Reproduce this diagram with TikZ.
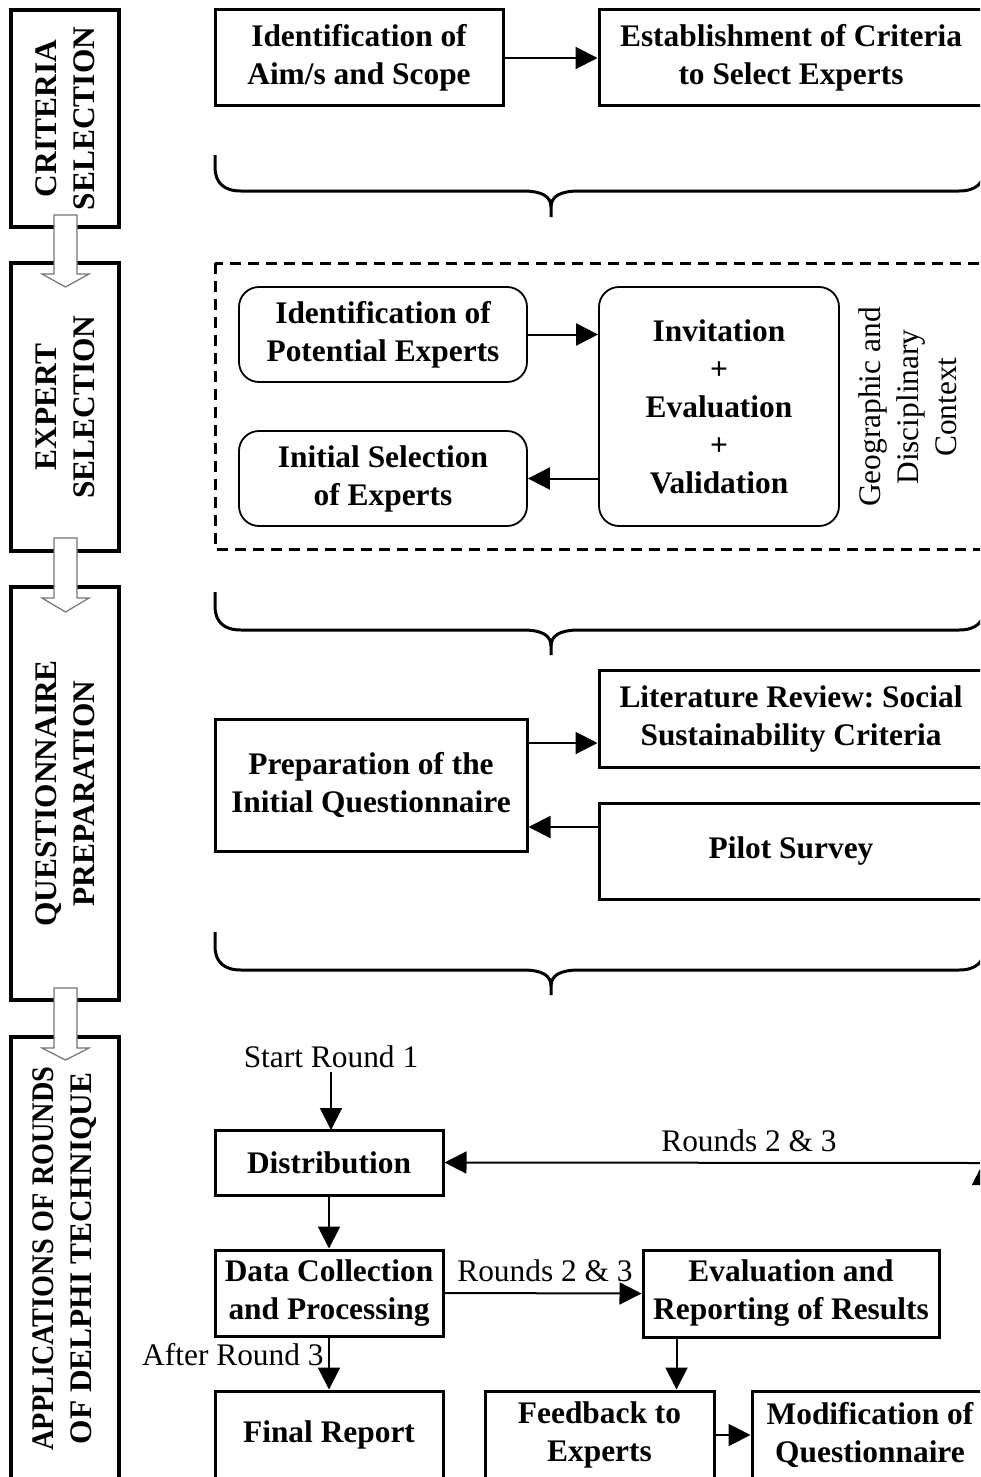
\documentclass[tikz,border=0pt]{standalone}
\usepackage{fontspec}
\setmainfont{Liberation Serif}
\usepackage{graphicx}
\usetikzlibrary{arrows.meta}
\frenchspacing
\newcommand\mybrace[3]{%
  \draw[brace] (215,#1) -- (215,#2-24) .. controls (215,#2-8) and (224,#2) .. (241,#2) -- (523,#2) .. controls (543,#2) and (551,#2+6) .. (551,#2+16) -- (551,#3);
  \draw[brace] (551,#2+16) .. controls (551,#2+6) and (559,#2) .. (579,#2) -- (959,#2) .. controls (976,#2) and (985,#2-8) .. (985,#2-24) -- (985,#1);
}
\begin{document}
\begin{tikzpicture}[x=0.5pt,y=-0.5pt,
  txt/.style={font=\fontsize{15.7}{19}\selectfont, align=center, inner sep=2pt},
  bx/.style={draw, line width=1.5pt, font=\fontsize{15.7}{19}\selectfont\bfseries, align=center, inner sep=0pt},
  rbx/.style={bx, line width=0.9pt, rounded corners=10pt},
  side/.style={bx, line width=1.7pt, rotate=90},
  arr/.style={line width=1pt, -{Triangle[length=11pt,width=11pt]}},
  hollow/.style={draw=black!55, line width=0.6pt, fill=white},
  brace/.style={line width=1.5pt, line cap=butt},
]
\useasboundingbox (0,0) rectangle (980,1477);
\clip (0,0) rectangle (980,1477);

% side column
\node[side, minimum width=108.5pt, minimum height=54pt] (s1) at (65,118.5) {CRITERIA\\SELECTION};
\node[side, minimum width=144pt, minimum height=54pt] (s2) at (65,407) {EXPERT\\SELECTION};
\node[side, minimum width=206.5pt, minimum height=54pt] (s3) at (65,793.5) {QUESTIONNAIRE\\PREPARATION};
\node[side, minimum width=221.5pt, minimum height=54pt] (s4) at (65,1258.5) {\scalebox{0.9}[1]{APPLICATIONS OF ROUNDS}\\OF DELPHI TECHNIQUE};

\draw[hollow] (54,215) -- (77,215) -- (77,274) -- (89,274) -- (65.5,287) -- (42,274) -- (54,274) -- cycle;
\draw[hollow] (54,538) -- (77,538) -- (77,598) -- (89,598) -- (65.5,612) -- (42,598) -- (54,598) -- cycle;
\draw[hollow] (54,988) -- (77,988) -- (77,1048) -- (89,1048) -- (65.5,1060) -- (42,1048) -- (54,1048) -- cycle;

% section 1
\node[bx, minimum width=144pt, minimum height=48pt] (aim) at (359,58) {Identification of\\Aim/s and Scope};
\node[bx, minimum width=192pt, minimum height=48pt] (crit) at (791,58) {Establishment of Criteria\\to Select Experts};
\draw[arr] (aim.east) -- (crit.west);
\mybrace{155}{191}{217}

% section 2
\draw[line width=1.5pt, dash pattern=on 5.5pt off 3.5pt] (215,263) rectangle (995,549);
\node[rbx, minimum width=144pt, minimum height=47.5pt] (pot) at (383,334.5) {Identification of\\Potential Experts};
\node[rbx, minimum width=144pt, minimum height=47.5pt] (init) at (383,478.5) {Initial Selection\\of Experts};
\node[rbx, minimum width=120pt, minimum height=119.5pt] (inv) at (719,406.5) {Invitation\\+\\Evaluation\\+\\Validation};
\draw[arr] (pot.east) -- (pot.east -| inv.west);
\draw[arr] (init.east -| inv.west) -- (init.east);
\node[txt, rotate=90] (geo) at (908,407) {Geographic and\\Disciplinary\\Context};

% section 3
\mybrace{592}{630}{655}
\node[bx, minimum width=192pt, minimum height=48.5pt] (lit) at (791,718.5) {Literature Review: Social\\Sustainability Criteria};
\node[bx, minimum width=192pt, minimum height=48pt] (pilot) at (791,851) {Pilot Survey};
\node[bx, minimum width=156pt, minimum height=66pt] (prep) at (371,785) {Preparation of the\\Initial Questionnaire};
\coordinate (p1) at ([yshift=21pt]prep.east);
\coordinate (p2) at ([yshift=-21pt]prep.east);
\draw[arr] (p1) -- (p1 -| lit.west);
\draw[arr] (p2 -| pilot.west) -- (p2);
\mybrace{932}{970}{995}

% section 4
\node[txt] (start) at (331,1057) {Start Round 1};
\node[bx, minimum width=114pt, minimum height=32.5pt] (dist) at (329,1162.5) {Distribution};
\node[bx, minimum width=114pt, minimum height=43pt] (data) at (329,1293) {Data Collection\\and Processing};
\node[bx, minimum width=148pt, minimum height=43.5pt] (eval) at (791,1293.5) {Evaluation and\\Reporting of Results};
\node[bx, minimum width=114pt, minimum height=44pt] (final) at (329,1435) {Final Report};
\node[bx, minimum width=114.5pt, minimum height=44pt] (feed) at (599.5,1435) {Feedback to\\Experts};
\node[bx, minimum width=118pt, minimum height=44pt] (mod) at (870,1435) {Modification of\\Questionnaire};
\coordinate (corner) at (983,1163);

\draw[arr] (start.south -| 331,0) -- (331,1130);
\draw[arr] (dist.south) -- (data.north);
\draw[arr] (data.east) -- (eval.west);
\node[txt] (r23b) at (545,1271) {Rounds 2 \& 3};
\draw[arr] (data.south) -- (final.north);
\node[txt, anchor=east] (after) at (328,1355) {After Round 3};
\coordinate (e1) at ([xshift=17.5pt]eval.south west);
\draw[arr] (e1) -- (e1 |- feed.north);
\draw[arr] (feed.east) -- (mod.west);
\draw[arr] (mod.north -| corner) -- (corner);
\draw[arr] (corner) -- (dist.east);
\node[txt] (r23a) at (749,1141) {Rounds 2 \& 3};
\end{tikzpicture}
\end{document}
